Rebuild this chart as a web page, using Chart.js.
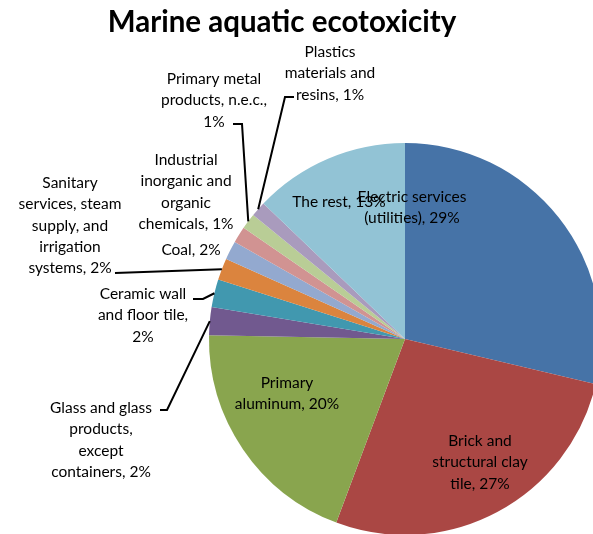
<!DOCTYPE html>
<html lang="en">
<head>
  <meta charset="UTF-8" />
  <title>Marine aquatic ecotoxicity</title>
  <script src="https://cdn.jsdelivr.net/npm/chart.js"></script>
  <style>
    * {
      margin: 0;
      padding: 0;
      box-sizing: border-box;
    }

    body {
      background: #ffffff;
      width: 593px;
      height: 534px;
      overflow: hidden;
    }

    #ecoChart {
      display: block;
    }
  </style>
</head>
<body>

  <canvas id="ecoChart" width="593" height="534"></canvas>

  <script>
    // data, clockwise from 12 o'clock
    const categories = [
      'Electric services (utilities)',
      'Brick and structural clay tile',
      'Primary aluminum',
      'Glass and glass products, except containers',
      'Ceramic wall and floor tile',
      'Sanitary services, steam supply, and irrigation systems',
      'Coal',
      'Industrial inorganic and organic chemicals',
      'Primary metal products, n.e.c.',
      'Plastics materials and resins',
      'The rest'
    ];
    const shares = [28.7, 27.0, 19.6, 2.3, 2.3, 1.8, 1.55, 1.35, 1.3, 1.25, 12.85];

    // how each label is wrapped (percentage goes after the last line)
    const labelLines = [
      ['Electric services', '(utilities),'],
      ['Brick and', 'structural clay', 'tile,'],
      ['Primary', 'aluminum,'],
      ['Glass and glass', 'products,', 'except', 'containers,'],
      ['Ceramic wall', 'and floor tile,', ''],
      ['Sanitary', 'services, steam', 'supply, and', 'irrigation', 'systems,'],
      ['Coal,'],
      ['Industrial', 'inorganic and', 'organic', 'chemicals,'],
      ['Primary metal', 'products, n.e.c.,', ''],
      ['Plastics', 'materials and', 'resins,'],
      ['The rest,']
    ];

    const sliceColors = [
      '#4673a7', '#aa4744', '#89a54e', '#71598f', '#4198af', '#db843e',
      '#93a9cf', '#d19392', '#b9cd96', '#a99bbd', '#92c3d5'
    ];

    // label spots, relative to the pie centre (first line centre)
    const labelSpots = [
      [7, -142], [75, 102], [-118, 44], [-304, 69], [-262, -45], [-335, -156],
      [-214, -89], [-219, -179], [-191, -260], [-75, -287], [-66, -137]
    ];
    // leader line bends, relative to the pie centre (null = no leader)
    const leaders = [
      null, null, null,
      [[-245, 71], [-238, 71]],
      [[-212, -40], [-202, -40]],
      [[-290, -66]],
      null, null,
      [[-172, -215], [-163, -215]],
      [[-111, -242], [-120, -242]],
      null
    ];

    const LABEL_FONT = '15.5px Lato, "Open Sans", sans-serif';
    const LINE_H = 21.3;

    const pieLabels = {
      id: 'pieLabels',
      afterDatasetsDraw(chart) {
        const ctx = chart.ctx;
        const meta = chart.getDatasetMeta(0);
        ctx.save();

        // title
        ctx.fillStyle = '#000';
        ctx.font = 'bold 29.5px Lato, "Open Sans", sans-serif';
        ctx.textAlign = 'center';
        ctx.textBaseline = 'alphabetic';
        ctx.fillText('Marine aquatic ecotoxicity', 282, 32);

        ctx.font = LABEL_FONT;
        ctx.textBaseline = 'middle';
        meta.data.forEach((arc, i) => {
          const p = arc.getProps(['x', 'y', 'startAngle', 'endAngle', 'outerRadius'], true);
          const cx = p.x, cy = p.y;

          // leader line from label to slice edge
          if (leaders[i]) {
            const mid = (p.startAngle + p.endAngle) / 2;
            ctx.strokeStyle = '#000';
            ctx.lineWidth = 2;
            ctx.beginPath();
            leaders[i].forEach((pt, k) => {
              if (k === 0) ctx.moveTo(cx + pt[0], cy + pt[1]);
              else ctx.lineTo(cx + pt[0], cy + pt[1]);
            });
            ctx.lineTo(cx + Math.cos(mid) * p.outerRadius, cy + Math.sin(mid) * p.outerRadius);
            ctx.stroke();
          }

          const pct = Math.round(shares[i]) + '%';
          const lines = labelLines[i].slice();
          const last = lines.length - 1;
          lines[last] = lines[last] ? lines[last] + ' ' + pct : pct;
          const lx = cx + labelSpots[i][0];
          const ly = cy + labelSpots[i][1];
          ctx.fillStyle = '#000';
          ctx.textAlign = 'center';
          lines.forEach((t, k) => ctx.fillText(t, lx, ly + k * LINE_H));
        });
        ctx.restore();
      }
    };

    const ctx = document.getElementById('ecoChart').getContext('2d');
    new Chart(ctx, {
      type: 'pie',
      data: {
        labels: categories,
        datasets: [{
          data: shares,
          backgroundColor: sliceColors,
          borderWidth: 0,
          radius: 196,
          clip: false
        }]
      },
      options: {
        responsive: false,
        animation: false,
        events: [],
        layout: {
          padding: { left: 217, top: 144, right: 0, bottom: 0 }
        },
        plugins: {
          legend: { display: false },
          tooltip: { enabled: false },
          title: { display: false }
        }
      },
      plugins: [pieLabels]
    });
  </script>

</body>
</html>
